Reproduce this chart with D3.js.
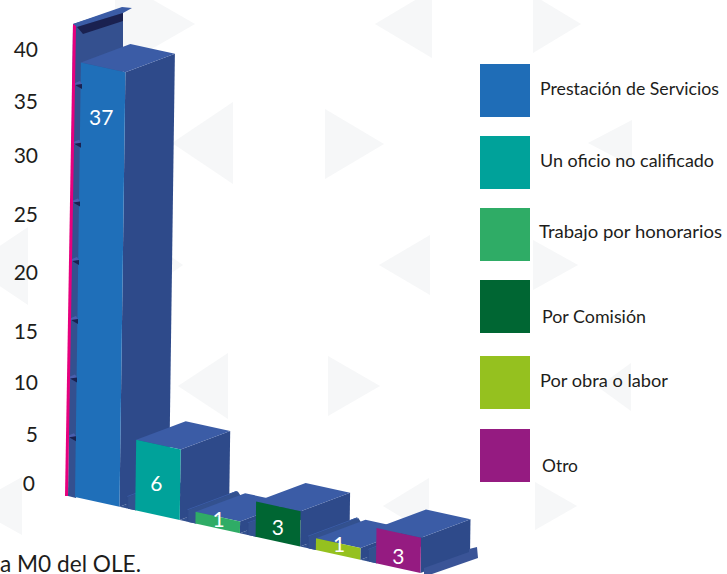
<!DOCTYPE html>
<html><head><meta charset="utf-8">
<script src="https://cdn.jsdelivr.net/npm/d3@7"></script>
<style>html,body{margin:0;background:#fff}svg{display:block}text{font-family:Lato,"Open Sans",sans-serif}</style>
</head><body><svg id="c" width="727" height="574"></svg>
<script>
const categories=["Prestación de Servicios","Un oficio no calificado","Trabajo por honorarios","Por Comisión","Por obra o labor","Otro"];
const values=[37,6,1,3,1,3];
const colors=["#1f6fb9","#00a29a","#2fac66","#006633","#95c11f","#951b81"];
const tickValues=[0,5,10,15,20,25,30,35,40];
const tickPositions=[483,434,382,331,272,214,155,101,49];

const svg=d3.select("#c");
// watermark triangles: base x, tip x, centre y, half height
const marks=[[115,195,24,46],[432,375,24,34],[233,172,143,41],[325,384,144,35],[430,379,265,30],[125,183,265,40],[228,178,386,33],[328,380,386,30],[429,383,506,28],[28,-30,266,39],[22,-30,506,29],[533,581,24,29],[632,588,143,23],[533,578,265,25],[631,598,387,24],[535,577,506,24]];
svg.append("g").selectAll("path").data(marks).join("path")
 .attr("fill","#f6f7f8")
 .attr("d",([b,t,y,h])=>`M${b},${y-h}L${t},${y}L${b},${y+h}Z`);

// scales + simple oblique projection
const xBand=d3.scaleLinear().domain([0,6]).range([75,436.2]);
const barW=44.5;
const hScale=d3.scaleLinear().domain([0,37]).range([0,434.5]);
const floorY=x=>497+0.22*(x-75);
const lean=0.0135, dx=49.5, dy=-18.5;
function P(u,h,d){return [u+h*lean+dx*d, floorY(u)-h+dy*d];}
const poly=pts=>"M"+pts.map(p=>p.map(v=>v.toFixed(1)).join(",")).join("L")+"Z";

const g=svg.append("g");
const topC="#3b5ca6",sideC="#2e4a8a",wall="#34508f",dark="#1a2150",floorC="#33518f";

// back wall
g.append("path").attr("d",poly([[73,24],[123,8],[123,70],[76,498],[68,496]])).attr("fill",wall);
g.append("path").attr("d",poly([[73,24],[122,7],[132,8],[123,13],[77,27]])).attr("fill",topC);
g.append("path").attr("d",poly([[77,27],[123,13],[123,21],[83,34]])).attr("fill",dark);

// bars, each with the low divider on its right
const bars=g.selectAll("g.bar").data(values).join("g").attr("class","bar");
bars.each(function(v,i){
  const s=d3.select(this),u0=xBand(i),u1=u0+barW,h=hScale(v);
  s.append("path").attr("d",poly([P(u1,0,0),P(u1,h,0),P(u1,h,1),P(u1,0,1)])).attr("fill",sideC);
  s.append("path").attr("d",poly([P(u0,h,0),P(u1,h,0),P(u1,h,1),P(u0,h,1)])).attr("fill",topC);
  s.append("path").attr("d",poly([P(u0,0,0),P(u1,0,0),P(u1,h,0),P(u0,h,0)])).attr("fill",colors[i]);
  if(i<values.length-1){
    const u=u1+7, r=12;
    s.append("path").attr("d",poly([P(u1,0,0),P(u+9,0,0),P(u+9,0,1),P(u1,0,1)])).attr("fill",floorC);
    s.append("path").attr("d",poly([P(u,0,0),P(u,r,0),P(u,r,1),P(u,0,1)])).attr("fill",sideC);
    s.append("path").attr("d",poly([P(u,r,0),P(u+1.5,r,0),P(u+1.5,r,1),P(u,r,1)])).attr("fill",topC);
    s.append("path").attr("d",poly([P(u+1.5,r,0),P(u+1.5,0,0),P(u+9,0,0),P(u+9,2,1),P(u+1.5,r,1)])).attr("fill",floorC);
  }
});
// tray end past the last bar
g.append("path").attr("d",poly([[424,574],[424,568],[469,552],[469,549],[477,547],[478,558],[432,574]])).attr("fill","#3a5497");

// value labels
const labelDy=[0,11,4,11,3,13];
bars.append("text").attr("text-anchor","middle").attr("fill","#fff").attr("font-size",21)
 .attr("x",(v,i)=>P(xBand(i)+barW/2,0,0)[0]+(v===1?1:0)+(i===0?4:0)-(i===1?1:0))
 .attr("y",(v,i)=>{const u=xBand(i)+barW/2;return i===0?P(u,hScale(v),0)[1]+58:P(u,hScale(v)/2,0)[1]+labelDy[i];})
 .text(v=>v);

// pink axis
g.append("path").attr("d",poly([[73,24],[76,26],[68,496],[65,496]])).attr("fill","#e6007e");
// tick notches on the wall
const notches=tickValues.slice(1,8);
const notchY=t=>495-hScale(t);
const edgeX=y=>68+(496-y)*0.0170;
g.selectAll("path.nl").data(notches).join("path").attr("class","nl").attr("fill","#4a5fae")
 .attr("d",t=>{const y=notchY(t),x=edgeX(y);return poly([[x,y-1],[x+5,y-3],[x+7,y],[x,y+2]]);});
g.selectAll("path.nd").data(notches).join("path").attr("class","nd").attr("fill",dark)
 .attr("d",t=>{const y=notchY(t),x=edgeX(y);return poly([[x,y+1],[x+7,y],[x+7,y+5]]);});

// y labels
const yPos=d3.scaleLinear().domain(tickValues).range(tickPositions);
svg.append("g").selectAll("text").data(tickValues).join("text")
 .attr("x",d=>d===0?35:38).attr("y",d=>yPos(d)+8).attr("text-anchor","end").attr("font-size",21).attr("fill","#1d1d1b").text(d=>d);

// legend
const legY=[64,136,208,280,356,429];
const legX=[540,540,539,542,540,542];
const legBase=[95,167,238,323,387,472];
const legWidth=[179,174,183,104,128,36];
const leg=svg.append("g");
leg.selectAll("rect").data(categories).join("rect").attr("x",480).attr("y",(d,i)=>legY[i]).attr("width",50).attr("height",53).attr("fill",(d,i)=>i===0?"#1f6db7":colors[i]);
leg.selectAll("text").data(categories).join("text").attr("x",(d,i)=>legX[i]).attr("y",(d,i)=>legBase[i])
 .attr("font-size",18).attr("fill","#1d1d1b").attr("textLength",(d,i)=>legWidth[i]).attr("lengthAdjust","spacingAndGlyphs").text(d=>d);

svg.append("text").attr("x",0).attr("y",572).attr("font-size",23).attr("fill","#1d1d1b").attr("textLength",141).attr("lengthAdjust","spacingAndGlyphs").text("a M0 del OLE.");
</script></body></html>
